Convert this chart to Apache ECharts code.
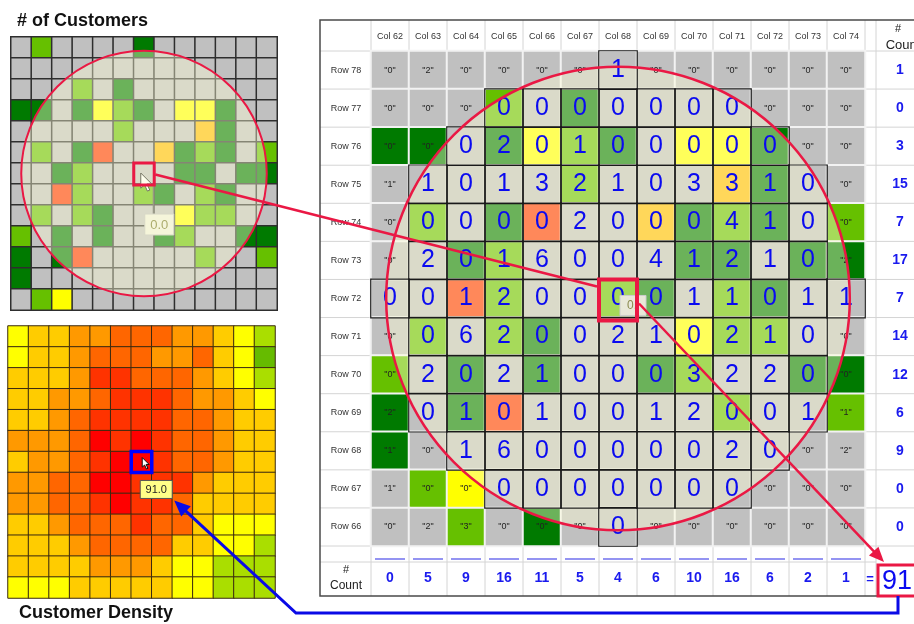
<!DOCTYPE html>
<html><head><meta charset="utf-8">
<script src="https://cdn.jsdelivr.net/npm/echarts@6/dist/echarts.min.js"></script>
<style>html,body{margin:0;padding:0;background:#fff;}#c{width:914px;height:624px;}</style>
</head><body><div id="c"></div>
<script>
// ---------------- data ----------------
const cols = ['Col 62','Col 63','Col 64','Col 65','Col 66','Col 67','Col 68','Col 69','Col 70','Col 71','Col 72','Col 73','Col 74'];
const tableRows = ['Row 78','Row 77','Row 76','Row 75','Row 74','Row 73','Row 72','Row 71','Row 70','Row 69','Row 68','Row 67','Row 66'];
const mapRows = ['Row 79','Row 78','Row 77','Row 76','Row 75','Row 74','Row 73','Row 72','Row 71','Row 70','Row 69','Row 68','Row 67'];
// cell colour class, Row 79 .. Row 66 (g grey, d dark green, v green, y yellow, o gold, r orange)
const cellClassRows = [
  'gvggggdgggggg', // Row 79
  'ggggggggggggg', // Row 78
  'gggvgdggggggg', // Row 77
  'ddgdyvdgyydgg', // Row 76
  'gggggvgggodgg', // Row 75
  'gvgdrggodvdgv', // Row 74
  'ggdvggggddgdd', // Row 73
  'ggrvggvdgvdgg', // Row 72
  'gvgvdgggyvvgg', // Row 71
  'vgdgdggdvggdd', // Row 70
  'dgdrgggggvggv', // Row 69
  'dgggggggggggg', // Row 68
  'gvygggggggggg', // Row 67
  'ggvgdgggggggg'  // Row 66
];
// # of customers per cell, Row 78 .. Row 66
const customers = [
  [0,2,0,0,0,0,1,0,0,0,0,0,0],
  [0,0,0,0,0,0,0,0,0,0,0,0,0],
  [0,0,0,2,0,1,0,0,0,0,0,0,0],
  [1,1,0,1,3,2,1,0,3,3,1,0,0],
  [0,0,0,0,0,2,0,0,0,4,1,0,0],
  [0,2,0,1,6,0,0,4,1,2,1,0,2],
  [0,0,1,2,0,0,0,0,1,1,0,1,1],
  [0,0,6,2,0,0,2,1,0,2,1,0,0],
  [0,2,0,2,1,0,0,0,3,2,2,0,0],
  [2,0,1,0,1,0,0,1,2,0,0,1,1],
  [1,0,1,6,0,0,0,0,0,2,0,0,2],
  [1,0,0,0,0,0,0,0,0,0,0,0,0],
  [0,2,3,0,0,0,0,0,0,0,0,0,0]
];
// cells inside the search radius, Row 78 .. Row 66
const insideRows = [
  '0000001000000','0001111111000','0011111111100','0111111111110','0111111111110',
  '0111111111110','1111111111111','0111111111110','0111111111110','0111111111110',
  '0011111111100','0001111111000','0000001000000'
];
const rowCounts = [1,0,3,15,7,17,7,14,12,6,9,0,0];
const colCounts = [0,5,9,16,11,5,4,6,10,16,6,2,1];
const totalCount = 91;
const selectedDensity = '91.0';
const selectedCell = '0.0';
// customer density (estimated from colours)
const density = [
  [41,48,50,58,60,68,70,67,61,57,49,40,31],
  [38,47,52,59,66,69,71,63,60,66,51,42,23],
  [46,49,53,62,77,78,72,70,68,59,50,43,32],
  [47,51,56,61,71,79,82,80,73,62,57,48,40],
  [48,52,58,69,81,83,84,79,72,67,60,50,47],
  [56,58,60,72,86,84,87,81,74,70,61,52,49],
  [54,57,61,73,82,88,91,83,71,68,59,51,46],
  [57,59,66,71,87,89,84,80,77,56,50,47,45],
  [55,58,67,70,80,86,82,79,69,53,49,46,45],
  [50,52,57,68,71,73,78,69,66,48,42,39,36],
  [46,49,51,60,67,70,72,66,53,47,41,37,33],
  [45,47,50,53,58,61,60,52,43,38,33,30,27],
  [39,42,44,48,50,52,51,49,41,37,31,28,26]
];

// ---------------- styles ----------------
const FONT = 'Liberation Sans, Arial, Helvetica, sans-serif';
const classKeys = ['g','d','v','y','o','r'];
const classColors = {g:'#c0c0c0', d:'#007a00', v:'#66c000', y:'#ffff00', o:'#ffbb00', r:'#ff3300'};
const RED = '#ea1844', BLUE = '#0a0ae6', DIGIT = '#0a0af0', COUNT = '#1a1aee';

const mapData = [], tableBase = [], tableTop = [], densityData = [];
for (let r = 0; r < 13; r++) for (let c = 0; c < 13; c++) {
  mapData.push([c, r, classKeys.indexOf(cellClassRows[r][c])]);
  tableBase.push([c, r, classKeys.indexOf(cellClassRows[r + 1][c])]);
  densityData.push([c, r, density[r][c]]);
  const f = insideRows[r][c] === '1' ? 1 : 0;
  tableTop.push({
    value: [c, r, f],
    itemStyle: f ? {borderColor:'#1a1a1a', borderWidth:1.2} : {borderWidth:0},
    label: f ? {fontSize:25, color:DIGIT} : {fontSize:9, color:'#222'}
  });
}

const chart = echarts.init(document.getElementById('c'));
const hideAxis = {show:false};
const option = {
  animation: false,
  textStyle: {fontFamily: FONT},
  grid: [
    {left:11, top:37, width:266, height:273},
    {left:8, top:326, width:267, height:272},
    {left:371, top:51, width:494, height:495}
  ],
  xAxis: [
    {type:'category', gridIndex:0, data:cols, show:false},
    {type:'category', gridIndex:1, data:cols, show:false},
    {type:'category', gridIndex:2, data:cols, position:'top', axisLine:hideAxis, axisTick:hideAxis, splitLine:hideAxis,
      axisLabel:{interval:0, fontSize:9, color:'#333', margin:10}},
    {type:'category', gridIndex:2, data:cols, position:'bottom', axisLine:hideAxis, axisTick:hideAxis, splitLine:hideAxis,
      axisLabel:{interval:0, fontSize:14, fontWeight:'bold', color:COUNT, margin:25, formatter:(v,i)=>String(colCounts[i])}}
  ],
  yAxis: [
    {type:'category', gridIndex:0, data:mapRows, inverse:true, show:false},
    {type:'category', gridIndex:1, data:mapRows, inverse:true, show:false},
    {type:'category', gridIndex:2, data:tableRows, inverse:true, position:'left', axisLine:hideAxis, axisTick:hideAxis, splitLine:hideAxis,
      axisLabel:{interval:0, fontSize:9, color:'#333', margin:25, align:'center'}},
    {type:'category', gridIndex:2, data:tableRows, inverse:true, position:'right', axisLine:hideAxis, axisTick:hideAxis, splitLine:hideAxis,
      axisLabel:{interval:0, fontSize:14, fontWeight:'bold', color:COUNT, margin:35, align:'center', formatter:(v,i)=>String(rowCounts[i])}}
  ],
  visualMap: [
    {type:'piecewise', show:false, seriesIndex:[0,2], dimension:2,
      pieces: classKeys.map((k,i)=>({value:i, color:classColors[k]}))},
    {type:'piecewise', show:false, seriesIndex:1, dimension:2, pieces:[
      {gte:85, color:'#ff0000'}, {gte:75, lt:85, color:'#ff3300'}, {gte:65, lt:75, color:'#ff6600'},
      {gte:55, lt:65, color:'#ff9900'}, {gte:45, lt:55, color:'#ffcc00'}, {gte:35, lt:45, color:'#ffff00'},
      {gte:25, lt:35, color:'#aade00'}, {lt:25, color:'#66bb00'}]},
    {type:'piecewise', show:false, seriesIndex:3, dimension:2, pieces:[
      {value:0, color:'rgba(0,0,0,0)'}, {value:1, color:'rgba(0,0,0,0)'}]}
  ],
  series: [
    {type:'heatmap', xAxisIndex:0, yAxisIndex:0, data:mapData, silent:true, z:2,
      itemStyle:{borderColor:'#2e2e2e', borderWidth:1.5}, emphasis:{disabled:true}},
    {type:'heatmap', xAxisIndex:1, yAxisIndex:1, data:densityData, silent:true, z:2,
      itemStyle:{borderColor:'#3a2a10', borderWidth:1}, emphasis:{disabled:true}},
    {type:'heatmap', xAxisIndex:2, yAxisIndex:2, data:tableBase, silent:true, z:2,
      itemStyle:{borderColor:'#f2f2f2', borderWidth:2}, emphasis:{disabled:true}},
    {type:'heatmap', xAxisIndex:2, yAxisIndex:2, data:tableTop, silent:true, z:10, emphasis:{disabled:true},
      label:{show:true, fontFamily:FONT, formatter:p=>{
        const v = customers[p.value[1]][p.value[0]];
        return p.value[2] ? String(v) : '"' + v + '"';
      }}}
  ]
};
chart.setOption(option);

// ---------------- annotations positioned from the axes ----------------
function box(ai, c, r) {
  const q = {xAxisIndex:ai, yAxisIndex:ai};
  const p = chart.convertToPixel(q, [c, r]);
  const p0 = chart.convertToPixel(q, [0, 0]), p1 = chart.convertToPixel(q, [1, 1]);
  const w = p1[0] - p0[0], h = p1[1] - p0[1];
  return {cx:p[0], cy:p[1], w:w, h:h, x:p[0]-w/2, y:p[1]-h/2};
}
function arrowHead(tip, from, len, half, color) {
  const dx = tip[0]-from[0], dy = tip[1]-from[1], L = Math.hypot(dx, dy);
  const ux = dx/L, uy = dy/L, bx = tip[0]-ux*len, by = tip[1]-uy*len;
  return {head:{type:'polygon', z:22, shape:{points:[tip, [bx-uy*half, by+ux*half], [bx+uy*half, by-ux*half]]}, style:{fill:color}},
          base:[bx + ux*2, by + uy*2]};
}
function cursor(tip, s, z) {
  const pts = [[0,0],[0,16],[4,12.5],[7,19],[9.5,18],[6.5,11.5],[11.5,11.5]].map(p=>[tip[0]+p[0]*s, tip[1]+p[1]*s]);
  return {type:'polygon', z:z, shape:{points:pts}, style:{fill:'#fff', stroke:'#111', lineWidth:1}};
}
const els = [];
const t0 = box(2, 0, 0);
const cw = t0.w, ch = t0.h;
const L = t0.x, T = t0.y, R = L + 13*cw, B = T + 13*ch;
const frameL = L - 51, frameT = T - 31, spacerB = B + 16, frameB = B + 50, countColL = R + 11;

// table grid lines (behind the cells)
for (let k = 0; k <= 13; k++) {
  els.push({type:'line', z:0, shape:{x1:L+k*cw, y1:frameT, x2:L+k*cw, y2:frameB}, style:{stroke:'#d4d4d4', lineWidth:1}});
  els.push({type:'line', z:0, shape:{x1:frameL, y1:T+k*ch, x2:930, y2:T+k*ch}, style:{stroke:'#d4d4d4', lineWidth:1}});
}
els.push({type:'line', z:0, shape:{x1:countColL, y1:frameT, x2:countColL, y2:frameB}, style:{stroke:'#d4d4d4', lineWidth:1}});
els.push({type:'line', z:0, shape:{x1:frameL, y1:spacerB, x2:countColL, y2:spacerB}, style:{stroke:'#d4d4d4', lineWidth:1}});
els.push({type:'rect', z:1, shape:{x:frameL, y:frameT, width:940-frameL, height:frameB-frameT}, style:{fill:'none', stroke:'#4a4a4a', lineWidth:1.5}});
// underline row
for (let k = 0; k < 13; k++) {
  els.push({type:'line', z:1, shape:{x1:L+k*cw+4, y1:B+13, x2:L+(k+1)*cw-4, y2:B+13}, style:{stroke:'#7070ee', lineWidth:1.5}});
}
// "# Count" labels
const lbl = (txt, x, y, size, extra) => Object.assign({type:'text', z:1, x:x, y:y,
  style:{text:txt, fill:'#222', fontSize:size, fontFamily:FONT, align:'center', verticalAlign:'middle'}}, extra || {});
els.push(lbl('#', frameL + 26, B + 24, 11));
els.push(lbl('Count', frameL + 26, B + 40, 12));
els.push(lbl('#', countColL + 22, frameT + 9, 11));
els.push(lbl('Count', countColL + 27, frameT + 25, 13));
els.push(lbl('=', R + 5, B + 33, 13, {style:{text:'=', fill:COUNT, fontSize:13, fontWeight:'bold', fontFamily:FONT, align:'center', verticalAlign:'middle'}}));
// total box
els.push({type:'rect', z:21, shape:{x:R+13, y:B+19, width:45, height:31}, style:{fill:'#fff', stroke:RED, lineWidth:3}});
els.push({type:'text', z:22, x:R+17, y:B+36, style:{text:String(totalCount), fill:DIGIT, fontSize:27, fontFamily:FONT, align:'left', verticalAlign:'middle'}});

// ---- left top map: overlay, tooltip, cursor ----
const b0 = box(0, 6, 6);
els.push({type:'line', z:3, shape:{x1:b0.x+b0.w-1, y1:b0.y+b0.h, x2:b0.x+b0.w-1, y2:b0.y+b0.h+31}, style:{stroke:'#555', lineWidth:1}});
els.push({type:'rect', z:3, shape:{x:b0.x+11, y:b0.y+b0.h+30, width:29, height:21}, style:{fill:'#eeeedc', stroke:'#bbb', lineWidth:1}});
els.push({type:'text', z:3, x:b0.x+25.5, y:b0.y+b0.h+41, style:{text:selectedCell, fill:'#707020', fontSize:13, fontFamily:FONT, align:'center', verticalAlign:'middle'}});
els.push(cursor([b0.x+7, b0.y+10], 0.95, 3));
els.push({type:'circle', z:5, shape:{cx:b0.cx, cy:b0.cy, r:6.0*b0.w}, style:{fill:'rgba(255,255,215,0.42)'}});
els.push({type:'circle', z:20, shape:{cx:b0.cx, cy:b0.cy, r:6.0*b0.w}, style:{fill:'none', stroke:RED, lineWidth:2}});
els.push({type:'rect', z:21, shape:{x:b0.x, y:b0.y, width:b0.w, height:b0.h+1}, style:{fill:'none', stroke:RED, lineWidth:3}});

// ---- right table: overlay circle, selected cell ----
const b2 = box(2, 6, 6);
els.push({type:'circle', z:5, shape:{cx:b2.cx, cy:b2.cy, r:6.1*b2.w}, style:{fill:'rgba(255,255,215,0.42)'}});
els.push({type:'circle', z:20, shape:{cx:b2.cx, cy:b2.cy, r:6.1*b2.w}, style:{fill:'none', stroke:RED, lineWidth:2.5}});
els.push({type:'rect', z:15, shape:{x:b2.x+21, y:b2.y+16, width:26, height:20}, style:{fill:'#e8e8d8', stroke:'#ccc', lineWidth:1}});
els.push({type:'text', z:15, x:b2.x+28, y:b2.y+26, style:{text:'0.', fill:'#8a8a50', fontSize:12, fontFamily:FONT, align:'left', verticalAlign:'middle'}});
els.push({type:'rect', z:21, shape:{x:b2.x, y:b2.y, width:b2.w, height:b2.h+3}, style:{fill:'none', stroke:RED, lineWidth:4}});
// red connector lines
els.push({type:'line', z:21, shape:{x1:b0.x+b0.w+1, y1:b0.cy+1, x2:b2.x-2, y2:b2.cy-12}, style:{stroke:RED, lineWidth:2.5}});
const redStart = [b2.x+b2.w+2, b2.cy+5], redTip = [R+19, B+16];
const rh = arrowHead(redTip, redStart, 15, 6.5, RED);
els.push({type:'line', z:21, shape:{x1:redStart[0], y1:redStart[1], x2:rh.base[0], y2:rh.base[1]}, style:{stroke:RED, lineWidth:2.5}});
els.push(rh.head);

// ---- density map: selected cell, tooltip, blue path ----
const bd = box(1, 6, 6);
els.push(cursor([bd.x+11, bd.y+6], 0.6, 12));
els.push({type:'rect', z:21, shape:{x:bd.x, y:bd.y, width:bd.w, height:bd.h}, style:{fill:'none', stroke:'#0000ff', lineWidth:3.5}});
const tipBox = {x:bd.x+9, y:bd.y+bd.h+8, w:32, h:18};
els.push({type:'rect', z:21, shape:{x:tipBox.x, y:tipBox.y, width:tipBox.w, height:tipBox.h}, style:{fill:'#ffff88', stroke:'#555', lineWidth:1}});
els.push({type:'text', z:22, x:tipBox.x+tipBox.w/2, y:tipBox.y+tipBox.h/2+0.5, style:{text:selectedDensity, fill:'#222', fontSize:11, fontFamily:FONT, align:'center', verticalAlign:'middle'}});
const corner = [296, B+67];
const blueTip = [tipBox.x+tipBox.w+2, tipBox.y+tipBox.h+2];
const bh = arrowHead(blueTip, corner, 16, 7, BLUE);
els.push({type:'polyline', z:21, shape:{points:[[R+33, B+50],[R+33, B+67], corner, bh.base]}, style:{stroke:BLUE, lineWidth:3, fill:'none'}});
els.push(bh.head);

// titles
els.push({type:'text', z:22, x:17, y:21, style:{text:'# of Customers', fill:'#111', fontSize:18, fontWeight:'bold', fontFamily:FONT, align:'left', verticalAlign:'middle'}});
els.push({type:'text', z:22, x:19, y:613, style:{text:'Customer Density', fill:'#111', fontSize:18, fontWeight:'bold', fontFamily:FONT, align:'left', verticalAlign:'middle'}});

chart.setOption({graphic:{elements:els}});
</script>
</body></html>
